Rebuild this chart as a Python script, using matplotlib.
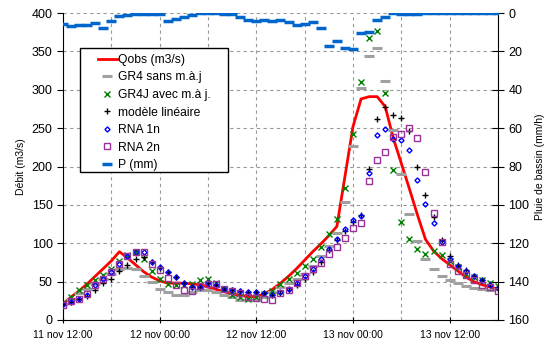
import numpy as np
import matplotlib
matplotlib.use('Agg')
import matplotlib.pyplot as plt
from matplotlib.patches import Rectangle

plt.rcParams['font.family'] = ['Liberation Sans', 'DejaVu Sans']

# heures depuis le 11 nov 12:00
heures = list(range(55))
tick_pos = [0, 12, 24, 36, 48]
tick_labels = ['11 nov 12:00', '12 nov 00:00', '12 nov 12:00', '13 nov 00:00', '13 nov 12:00']

qobs = [21, 30, 38, 47, 57, 67, 77, 89, 81, 72,
        63, 56, 51, 48, 48, 48, 47, 46, 43, 40,
        37, 34, 32, 30.5, 30.5, 34, 40, 48, 57, 67,
        78, 89, 99, 110, 122, 187, 252, 288, 291, 291,
        278, 237, 204, 171, 137, 105, 90, 80, 72, 64,
        56, 50, 46, 43, 40]

gr4 = [21, 28, 35, 41, 47, 53, 60, 67, 68, 66,
       57, 49, 41, 36, 33, 33, 37, 39, 39, 37,
       33, 30, 26, 26, 26, 30, 37, 43, 48, 54,
       60, 70, 83, 97, 114, 154, 227, 302, 344, 354,
       311, 248, 190, 138, 103, 79, 66, 57, 52, 48,
       44, 42, 40, 39, 40]

gr4j = [22, 30.5, 39, 46, 52, 59, 67, 77, 85, 89,
        79, 64, 53, 47, 46, 45, 47, 52, 54, 48,
        40, 33, 30, 28, 30, 34, 38, 47, 54, 61,
        70, 80, 95, 112, 132, 172, 242, 310, 367, 377,
        296, 196, 128, 106, 92, 86, 90, 85, 77, 69,
        60, 56, 52, 48, 44]

lineaire = [21, 24, 27, 31, 39, 48, 54, 64, 72, 79,
            82, 75, 68, 62, 56, 48, 43, 43, 48, 46,
            41, 39, 38, 37, 36, 35, 33, 35, 39, 45,
            53, 63, 76, 91, 104, 116, 128, 137, 197, 262,
            277, 267, 263, 246, 199, 163, 134, 104, 83, 72,
            65, 57, 52, 47, 43]

rna1n = [21, 24, 27, 33, 45, 53, 62, 73, 84, 89,
         88, 75, 69, 63, 56, 48, 43, 43, 48, 46,
         41, 39, 38, 37, 36, 35, 33, 37, 41, 48,
         57, 67, 79, 93, 106, 118, 130, 136, 192, 241,
         249, 236, 235, 221, 182, 151, 127, 101, 79, 71,
         64, 57, 52, 46, 42]

rna2n = [20, 25, 27, 33.5, 45.7, 53, 62, 72.6, 83.5, 89,
         88, 72.6, 65, 54.4, 45.7, 39, 38, 44, 46.5, 46.5,
         40, 37.8, 34.7, 30.4, 28.2, 26.9, 26.1, 35.6, 39, 48,
         57, 66, 74, 86, 95, 107, 120, 127, 181, 209,
         219, 239, 242, 250, 237, 193, 140, 102, 73, 64,
         59, 52, 46, 43, 38]

pluie = [5.6, 7.0, 6.1, 6.5, 5.1, 7.7, 4.4, 1.6, 1.0, 0.4,
         0.4, 0.4, 0.7, 4.0, 3.3, 2.1, 1.2, 0, 0, 0.2,
         0.3, 0.7, 2.0, 3.5, 4.2, 3.7, 4.2, 3.7, 4.5, 6.5,
         5.6, 4.7, 7.8, 17.2, 14.8, 18.3, 18.8, 10.6, 10.1, 3.8,
         2.3, 0, 0.3, 0.3, 0.3, 0, 0, 0, 0, 0,
         0, 0, 0, 0, 0]

fig = plt.figure(figsize=(5.48, 3.47), dpi=100)
ax = fig.add_axes([63 / 548, 27 / 347, 435 / 548, 307 / 347])

grid_kw = dict(color='#999999', linestyle=(0, (3, 3)), linewidth=0.8)

l_qobs, = ax.plot(heures, qobs, color='#ff0000', lw=2, label='Qobs (m3/s)', zorder=2)
l_gr4, = ax.plot(heures, gr4, ls='none', marker='_', ms=7, mew=2.2, color='#a0a0a0',
                 label='GR4 sans m.à.j', zorder=3)
l_gr4j, = ax.plot(heures, gr4j, ls='none', marker='x', ms=4, mew=1, color='#008000',
                  label='GR4J avec m.à j.', zorder=3)
l_lin, = ax.plot(heures, lineaire, ls='none', marker='+', ms=5, mew=1, color='black',
                 label='modèle linéaire', zorder=3)
l_rna1, = ax.plot(heures, rna1n, ls='none', marker='D', ms=2.6, mew=1, mfc='none', mec='#0000ff',
                  label='RNA 1n', zorder=3)
l_rna2, = ax.plot(heures, rna2n, ls='none', marker='s', ms=4.2, mew=1, mfc='none', mec='#993399',
                  label='RNA 2n', zorder=3)

ax.set_xlim(0, 54)
ax.set_ylim(0, 400)
ax.set_yticks(range(0, 401, 50))
ax.set_xticks(tick_pos)
ax.set_xticklabels(tick_labels, fontsize=7.5)
ax.set_xticks(range(0, 55, 6), minor=True)
ax.tick_params(axis='x', which='minor', length=0)
ax.tick_params(axis='x', which='major', direction='inout', length=5, pad=5)
ax.tick_params(axis='y', direction='out', length=4, labelsize=9)
ax.grid(True, which='both', axis='x', **grid_kw)
ax.grid(True, which='major', axis='y', **grid_kw)
ax.set_axisbelow(True)
ax.set_ylabel('Débit (m3/s)', fontsize=7.5, labelpad=4)
ax.spines['top'].set_visible(False)
ax.spines['right'].set_visible(False)

ax2 = ax.twinx()
l_p, = ax2.plot(heures, pluie, ls='none', marker='_', ms=7, mew=2.5, color='#0066cc',
                label='P (mm)', zorder=4)
ax2.set_ylim(160, 0)
ax2.set_yticks(range(0, 161, 20))
ax2.tick_params(axis='y', direction='inout', length=8, labelsize=9)
ax2.set_ylabel('Pluie de bassin (mm/h)', fontsize=7.5, labelpad=4)
ax2.spines['top'].set_visible(False)
ax2.spines['left'].set_visible(False)
ax2.spines['bottom'].set_visible(False)

# cadre de la légende dessiné à part (marges plus larges qu'en matplotlib)
ax2.add_patch(Rectangle((0.039, 0.482), 0.340, 0.404, transform=ax2.transAxes,
                        facecolor='white', edgecolor='black', lw=1, zorder=5))

handles = [l_qobs, l_gr4, l_gr4j, l_lin, l_rna1, l_rna2, l_p]
leg = ax2.legend(handles=handles, loc='upper left', bbox_to_anchor=(0.080, 0.867),
                 fontsize=8.7, frameon=False, borderpad=0, borderaxespad=0,
                 handlelength=1.57, handletextpad=0.12, labelspacing=0.46)
leg.set_zorder(6)

fig.savefig('out.png', dpi=100)
